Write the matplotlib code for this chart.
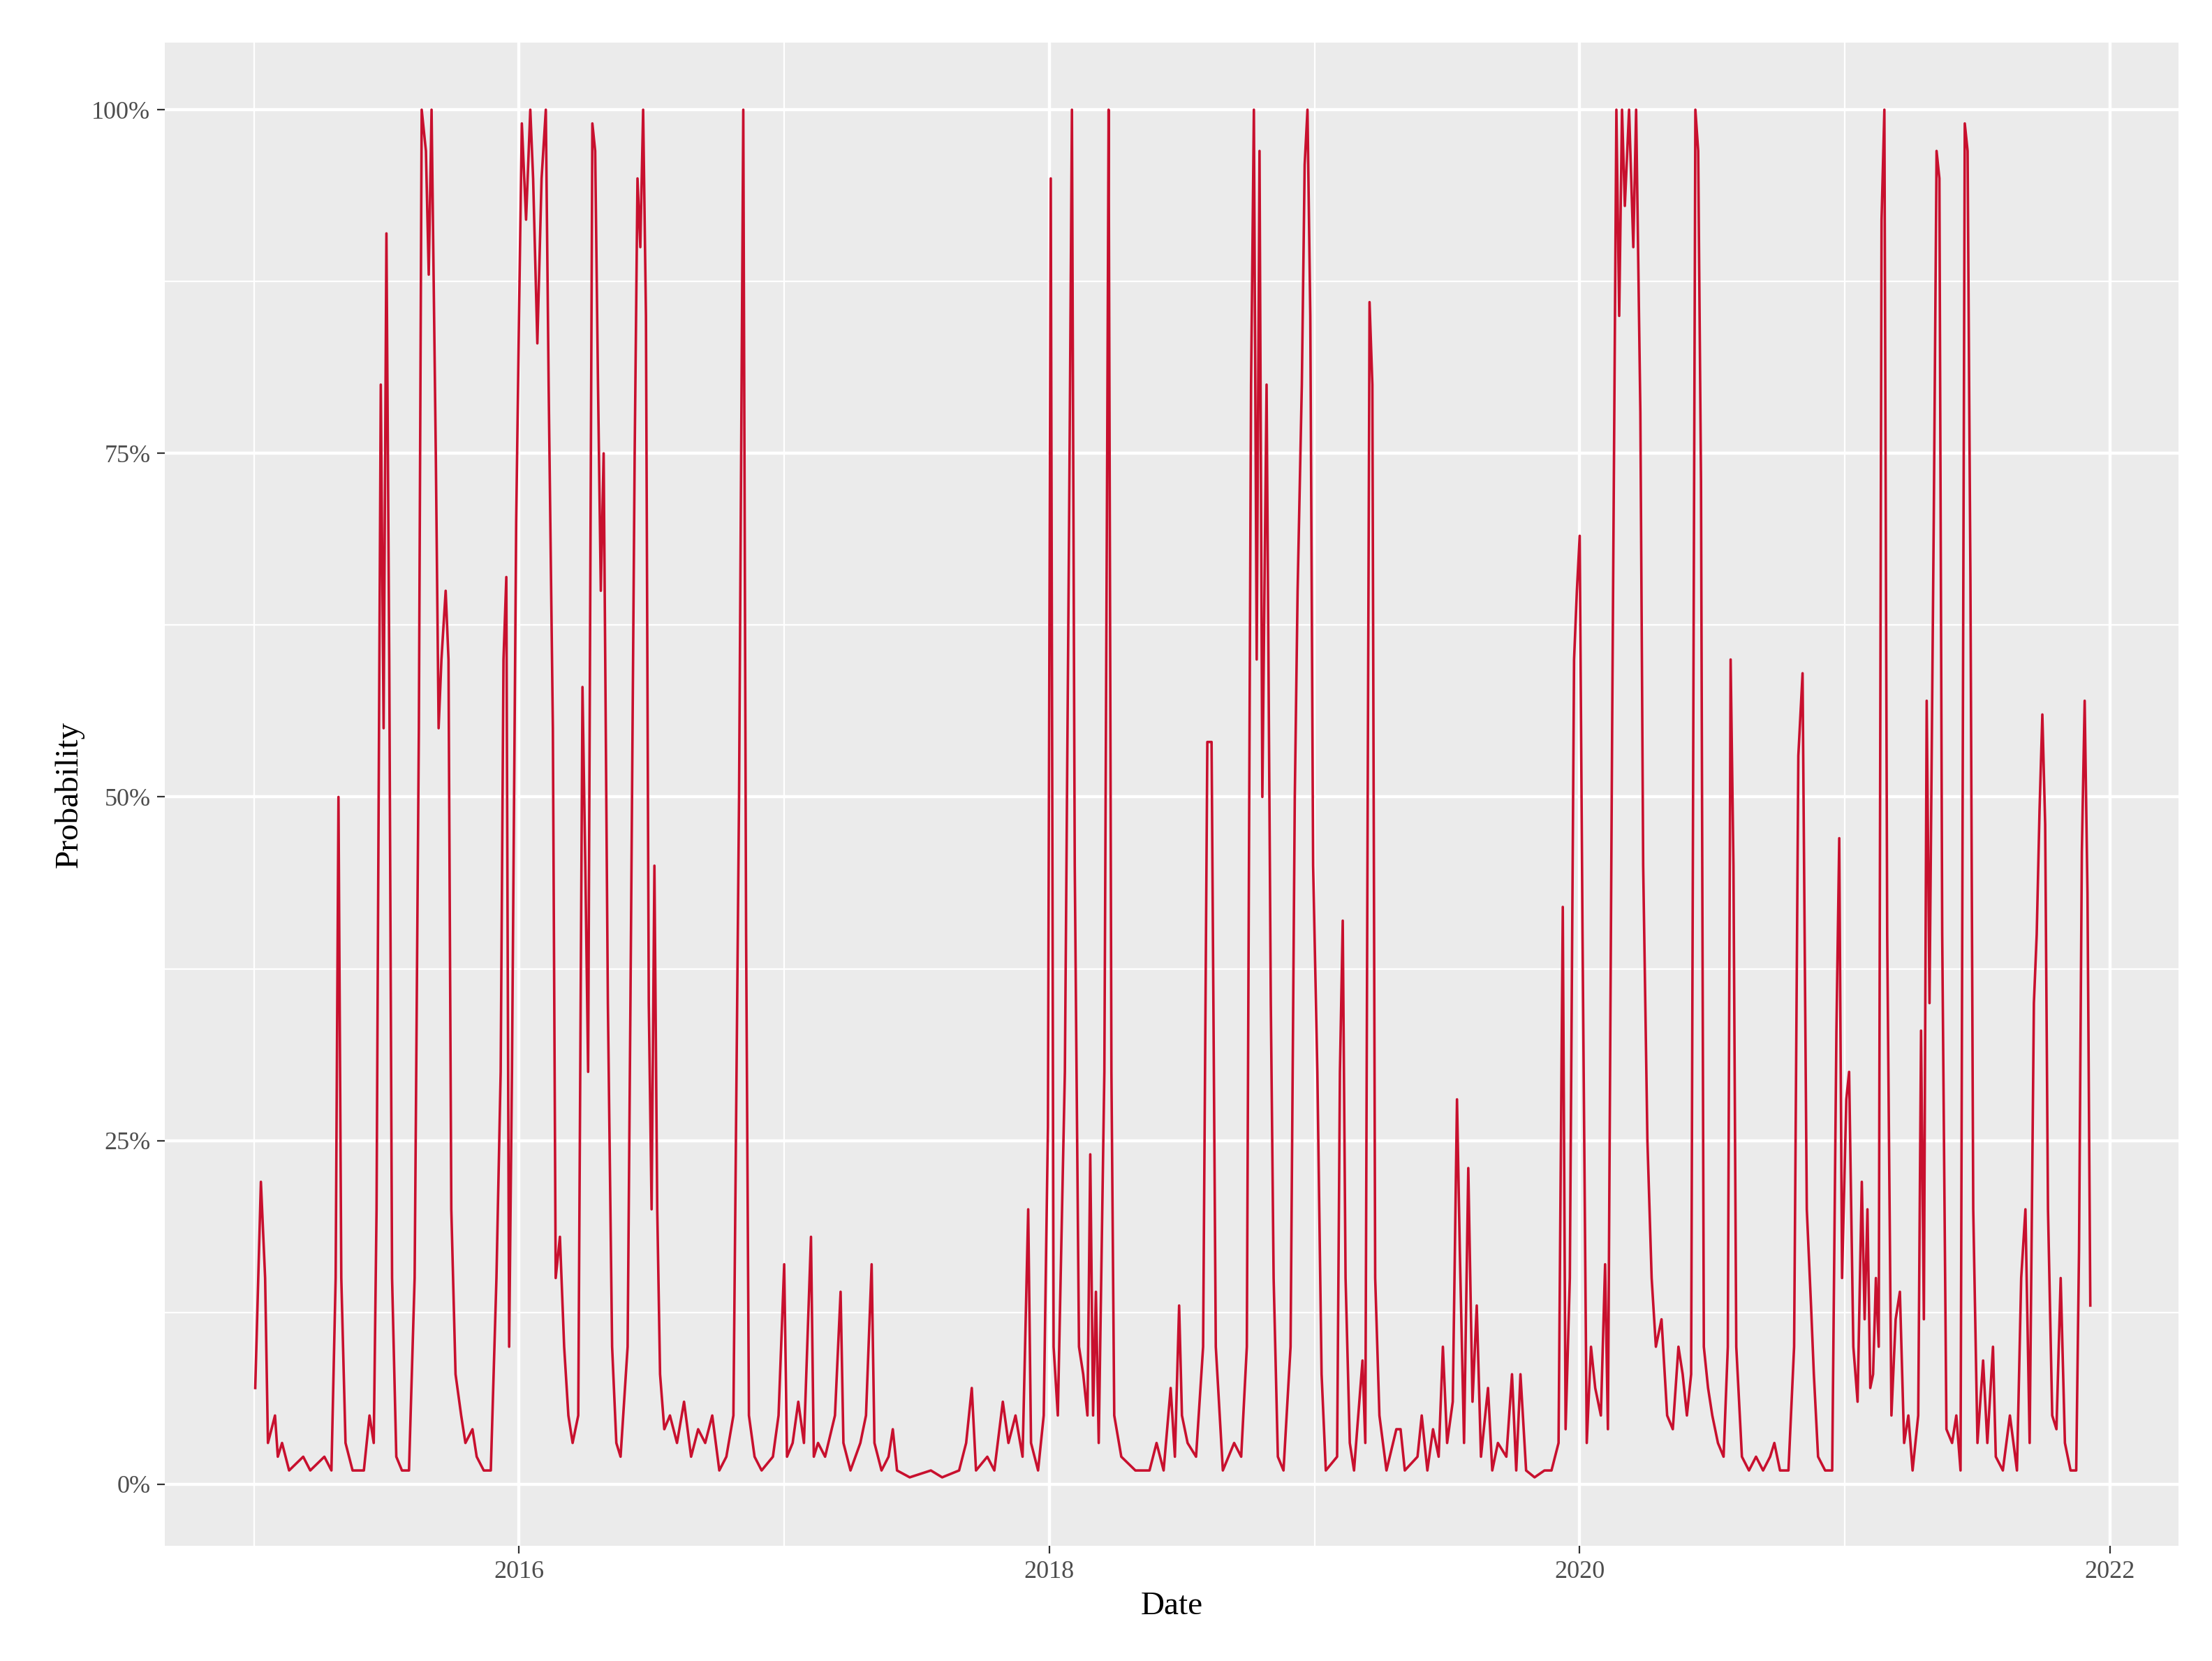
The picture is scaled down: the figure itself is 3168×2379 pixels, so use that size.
import matplotlib
matplotlib.use("Agg")
import matplotlib.pyplot as plt
import numpy as np

# (observation index in ~1.94-day steps from 2015-01-01, probability %)
obs = [(1,7),(5,22),(8,15),(10,3),(15,5),(17,2),(20,3),(25,1),(35,2),(40,1),(50,2),(55,1),(58,15),(60,50),(62,15),(65,3),(70,1),(78,1),(82,5),(85,3),(87,20),(90,80),(92,55),(94,91),(96,60),(98,15),(101,2),(105,1),(110,1),(114,15),(117,55),(119,100),(122,97),(124,88),(126,100),(129,75),(131,55),(133,60),(136,65),(138,60),(140,20),(143,8),(147,5),(150,3),(155,4),(158,2),(163,1),(168,1),(172,15),(175,30),(177,60),(179,66),(181,10),(183,30),(186,70),(188,85),(190,99),(193,92),(196,100),(198,95),(201,83),(204,95),(207,100),(209,80),(212,55),(214,15),(217,18),(220,10),(223,5),(226,3),(230,5),(233,58),(235,45),(237,30),(240,99),(242,97),(244,80),(246,65),(248,75),(251,35),(254,10),(257,3),(260,2),(265,10),(267,35),(270,75),(272,95),(274,90),(276,100),(278,85),(280,35),(282,20),(284,45),(286,20),(288,8),(291,4),(295,5),(300,3),(305,6),(310,2),(315,4),(320,3),(325,5),(330,1),(335,2),(340,5),(344,50),(347,100),(349,40),(351,5),(355,2),(360,1),(368,2),(372,5),(376,16),(378,2),(382,3),(386,6),(390,3),(395,18),(397,2),(400,3),(405,2),(412,5),(416,14),(418,3),(423,1),(430,3),(434,5),(438,16),(440,3),(445,1),(450,2),(453,4),(456,1),(465,0.5),(480,1),(488,0.5),(500,1),(505,3),(509,7),(512,1),(520,2),(525,1),(531,6),(535,3),(540,5),(545,2),(549,20),(551,3),(556,1),(560,5),(563,26),(565,95),(567,10),(570,5),(575,30),(578,70),(580,100),(582,45),(585,10),(588,8),(591,5),(593,24),(595,5),(597,14),(599,3),(603,30),(605,75),(606,100),(608,30),(610,5),(615,2),(625,1),(635,1),(640,3),(645,1),(650,7),(653,2),(656,13),(658,5),(662,3),(668,2),(673,10),(676,54),(679,54),(682,10),(687,1),(695,3),(700,2),(704,10),(707,80),(709,100),(711,60),(713,97),(715,50),(718,80),(721,35),(723,15),(726,2),(730,1),(735,10),(738,50),(740,65),(743,80),(745,96),(747,100),(749,85),(751,45),(754,30),(757,8),(760,1),(768,2),(770,30),(772,41),(774,15),(777,3),(780,1),(783,5),(786,9),(788,3),(791,86),(793,80),(795,15),(798,5),(803,1),(810,4),(813,4),(816,1),(825,2),(828,5),(832,1),(836,4),(840,2),(843,10),(846,3),(850,6),(853,28),(855,17),(858,3),(861,23),(864,6),(867,13),(870,2),(875,7),(878,1),(882,3),(888,2),(892,8),(895,1),(898,8),(902,1),(908,0.5),(915,1),(920,1),(925,3),(928,42),(930,4),(933,15),(936,60),(938,65),(940,69),(942,40),(945,3),(948,10),(951,7),(955,5),(958,16),(960,4),(963,55),(966,100),(968,85),(970,100),(972,93),(975,100),(978,90),(980,100),(983,78),(985,45),(988,25),(991,15),(994,10),(998,12),(1002,5),(1006,4),(1010,10),(1013,8),(1016,5),(1019,8),(1022,100),(1024,97),(1026,73),(1028,10),(1031,7),(1034,5),(1038,3),(1042,2),(1045,10),(1047,60),(1049,45),(1051,10),(1055,2),(1060,1),(1065,2),(1070,1),(1075,2),(1078,3),(1082,1),(1088,1),(1092,10),(1095,53),(1098,59),(1101,20),(1104,13),(1106,8),(1109,2),(1114,1),(1119,1),(1122,33),(1124,47),(1126,15),(1129,28),(1131,30),(1134,10),(1137,6),(1140,22),(1142,12),(1144,20),(1146,7),(1148,8),(1150,15),(1152,10),(1154,92),(1156,100),(1158,40),(1161,5),(1164,12),(1167,14),(1170,3),(1173,5),(1176,1),(1180,5),(1182,33),(1184,12),(1186,57),(1188,35),(1191,70),(1193,97),(1195,95),(1197,40),(1200,4),(1204,3),(1207,5),(1210,1),(1213,99),(1215,97),(1217,66),(1219,20),(1222,3),(1226,9),(1229,3),(1233,10),(1235,2),(1240,1),(1245,5),(1250,1),(1253,15),(1256,20),(1259,3),(1262,35),(1264,40),(1266,49),(1268,56),(1270,48),(1272,20),(1275,5),(1278,4),(1281,15),(1284,3),(1288,1),(1292,1),(1294,17),(1296,46),(1298,57),(1300,43),(1302,13)]
obs_index = [o[0] for o in obs]
prob = [o[1] for o in obs]
year_ticks = [2016, 2018, 2020, 2022]

t = 2015 + np.array(obs_index) * 1.943 / 365.25
p = np.array(prob) / 100

plt.rcParams['font.family'] = ['Liberation Serif', 'DejaVu Serif']
fig = plt.figure(figsize=(15.84, 11.895), dpi=200)
ax = fig.add_axes([0.0746, 0.0692, 0.9104, 0.9053])
ax.set_facecolor('#EBEBEB')
ax.plot(t, p, color='#C8102E', lw=1.3)
ax.set_xlim(2014.665, 2022.26)
ax.set_ylim(-0.045, 1.049)
ax.set_xticks(year_ticks)
ax.set_xticklabels([str(y) for y in year_ticks])
ax.set_xticks([2015, 2017, 2019, 2021], minor=True)
ax.set_yticks([0, 0.25, 0.5, 0.75, 1.0])
ax.set_yticklabels(['0%', '25%', '50%', '75%', '100%'])
ax.set_yticks([0.125, 0.375, 0.625, 0.875], minor=True)
ax.grid(which='major', color='white', lw=1.6)
ax.grid(which='minor', color='white', lw=0.8)
ax.set_axisbelow(True)
for s in ax.spines.values():
    s.set_visible(False)
ax.tick_params(which='major', length=4, color='#333333', labelsize=13, labelcolor='#4D4D4D')
ax.tick_params(which='minor', length=0)
ax.set_xlabel('Date', fontsize=17)
ax.set_ylabel('Probability', fontsize=17)
fig.savefig('out.png', dpi=200)
